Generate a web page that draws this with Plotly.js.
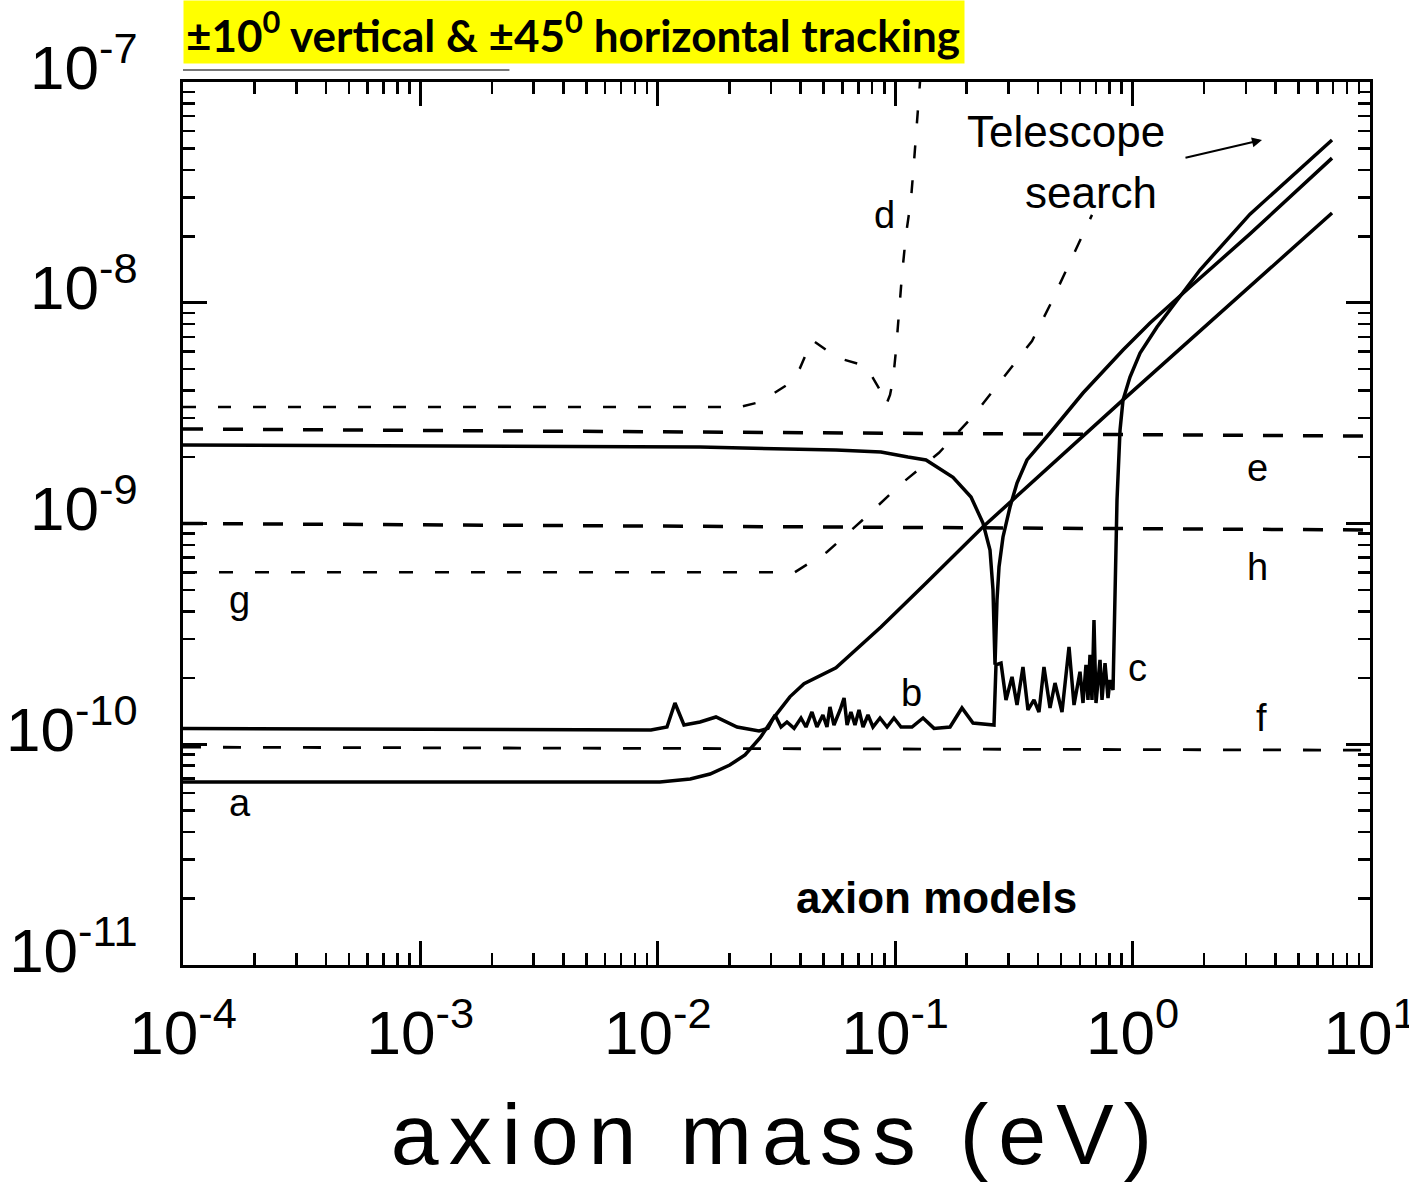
<!DOCTYPE html>
<html>
<head>
<meta charset="utf-8">
<script src="https://cdn.plot.ly/plotly-3.0.1.min.js"></script>
<style>
  html, body { margin: 0; padding: 0; background: #ffffff; }
  #chart { width: 1409px; height: 1182px; }
  .xtitle { letter-spacing: 10px; }
</style>
</head>
<body>
<div id="chart"></div>
<script>
// ---- axis ticks ----
const xTickVals = [1e-4, 1e-3, 1e-2, 1e-1, 1, 10];
const xTickText = ['10<sup>-4</sup>', '10<sup>-3</sup>', '10<sup>-2</sup>', '10<sup>-1</sup>', '10<sup>0</sup>', '10<sup>1</sup>'];
const yTickVals = [1e-11, 1e-10, 1e-9, 1e-8, 1e-7];
const yTickText = ['10<sup>-11</sup>', '10<sup>-10</sup>', '10<sup>-9</sup>', '10<sup>-8</sup>', '10<sup>-7</sup>'];

// ---- curve a (solid) ----
const aMass = [1e-4, 1.02e-2, 1.37e-2, 1.66e-2, 2.01e-2, 2.33e-2, 2.70e-2, 3.03e-2, 3.60e-2, 4.13e-2, 5.63e-2, 8.71e-2, 0.135, 0.234, 0.911, 6.92];
const aG    = [6.75e-11, 6.75e-11, 6.96e-11, 7.33e-11, 8.05e-11, 8.94e-11, 1.07e-10, 1.29e-10, 1.64e-10, 1.88e-10, 2.22e-10, 3.40e-10, 5.38e-10, 9.64e-10, 3.63e-9, 2.55e-8];

// ---- curve b (solid, noisy, rises at ~0.85 eV) ----
const bMass = [1e-4, 9.36e-3, 1.093e-2, 1.181e-2, 1.289e-2, 1.506e-2, 1.758e-2, 2.157e-2, 2.669e-2, 2.912e-2, 3.117e-2, 3.304e-2, 3.50e-2, 3.75e-2, 4.01e-2, 4.21e-2, 4.46e-2, 4.68e-2, 4.96e-2, 5.16e-2, 5.31e-2, 5.52e-2, 5.86e-2, 6.09e-2, 6.27e-2, 6.51e-2, 6.77e-2, 7.04e-2, 7.32e-2, 7.68e-2, 8.06e-2, 8.63e-2, 9.24e-2, 9.88e-2, 0.1058, 0.1177, 0.1310, 0.1457, 0.1702, 0.1911, 0.2127, 0.2532, 0.2607, 0.2658, 0.2791, 0.2929, 0.3105, 0.3259, 0.3453, 0.3625, 0.3843, 0.4033, 0.4233, 0.4489, 0.4711, 0.5042, 0.5397, 0.5665, 0.6004, 0.6181, 0.6363, 0.6487, 0.6615, 0.6745, 0.6876, 0.7011, 0.7290, 0.7433, 0.7653, 0.7879, 0.8030, 0.8270, 0.8432, 0.8597, 0.8852, 0.9112, 0.9750, 1.075, 1.267, 1.538, 1.745, 1.922, 3.123, 6.918];
const bG    = [1.18e-10, 1.16e-10, 1.197e-10, 1.538e-10, 1.222e-10, 1.261e-10, 1.329e-10, 1.197e-10, 1.148e-10, 1.18e-10, 1.357e-10, 1.197e-10, 1.261e-10, 1.18e-10, 1.315e-10, 1.197e-10, 1.40e-10, 1.197e-10, 1.357e-10, 1.197e-10, 1.475e-10, 1.222e-10, 1.43e-10, 1.62e-10, 1.222e-10, 1.40e-10, 1.222e-10, 1.43e-10, 1.197e-10, 1.357e-10, 1.197e-10, 1.315e-10, 1.197e-10, 1.315e-10, 1.197e-10, 1.197e-10, 1.315e-10, 1.18e-10, 1.197e-10, 1.46e-10, 1.248e-10, 1.222e-10, 1.222e-10, 2.29e-10, 2.33e-10, 1.587e-10, 2.02e-10, 1.506e-10, 2.24e-10, 1.43e-10, 1.587e-10, 1.40e-10, 2.24e-10, 1.46e-10, 1.895e-10, 1.40e-10, 2.76e-10, 1.506e-10, 2.13e-10, 1.538e-10, 2.29e-10, 1.587e-10, 2.54e-10, 1.587e-10, 3.65e-10, 1.538e-10, 2.41e-10, 1.587e-10, 2.33e-10, 1.62e-10, 1.955e-10, 1.76e-10, 4.50e-10, 1.278e-9, 2.65e-9, 3.627e-9, 4.61e-9, 5.92e-9, 7.76e-9, 1.029e-8, 1.229e-8, 1.407e-8, 2.52e-8, 5.46e-8];

// ---- curve c (solid, dip near 0.26 eV) ----
const cMass = [1e-4, 1.506e-2, 5.63e-2, 8.71e-2, 0.1132, 0.1348, 0.1752, 0.2086, 0.2343, 0.2508, 0.2582, 0.2633, 0.2684, 0.2737, 0.2845, 0.3045, 0.3259, 0.3590, 0.4489, 0.6181, 0.9112, 1.184, 1.745, 3.123, 6.918];
const cG    = [2.27e-9, 2.22e-9, 2.15e-9, 2.11e-9, 2.00e-9, 1.94e-9, 1.62e-9, 1.318e-9, 1.005e-9, 7.59e-10, 5.00e-10, 2.29e-10, 4.50e-10, 6.35e-10, 8.69e-10, 1.188e-9, 1.526e-9, 1.94e-9, 2.57e-9, 3.90e-9, 6.11e-9, 8.09e-9, 1.178e-8, 2.05e-8, 4.52e-8];

// ---- curve d (dashed) ----
const dMass = [1e-4, 2.22e-2, 2.695e-2, 3.50e-2, 3.972e-2, 4.46e-2, 5.74e-2, 7.53e-2, 8.63e-2, 9.15e-2, 9.51e-2, 9.79e-2, 0.1008, 0.1038, 0.1068, 0.1110, 0.1165, 0.1200, 0.1235, 0.1272];
const dG    = [3.37e-9, 3.37e-9, 3.55e-9, 4.24e-9, 5.06e-9, 6.78e-9, 5.62e-9, 5.17e-9, 4.02e-9, 3.44e-9, 3.82e-9, 4.47e-9, 6.11e-9, 9.08e-9, 1.336e-8, 2.03e-8, 2.92e-8, 4.34e-8, 6.73e-8, 1e-7];

// ---- curve g / telescope search (dashed) ----
const gMass = [1e-4, 3.78e-2, 5.16e-2, 7.53e-2, 0.1058, 0.1529, 0.2148, 0.2873, 0.3770, 0.4489, 0.5345, 0.6302, 0.6745];
const gG    = [6.02e-10, 6.02e-10, 7.43e-10, 1.07e-9, 1.51e-9, 2.09e-9, 3.10e-9, 4.61e-9, 6.71e-9, 9.77e-9, 1.467e-8, 2.14e-8, 2.50e-8];

// ---- flat dashed limits e, h, f ----
const eMass = [1e-4, 1.506e-2, 10];
const eG    = [2.68e-9, 2.60e-9, 2.49e-9];
const hMass = [1e-4, 10];
const hG    = [1.0e-9, 9.35e-10];
const fMass = [1e-4, 10];
const fG    = [9.7e-11, 9.4e-11];

const FONT = 'Liberation Sans, Arial, Helvetica, sans-serif';

function line(x, y, width, dash) {
  return {
    x: x, y: y, type: 'scatter', mode: 'lines', hoverinfo: 'skip',
    line: {color: '#000000', width: width, dash: dash || 'solid'}
  };
}

const traces = [
  line(eMass, eG, 3.5, '20px,20px'),
  line(hMass, hG, 3.5, '20px,20px'),
  line(fMass, fG, 2.8, '18px,22px'),
  line(dMass, dG, 2.5, '13px,22px'),
  line(gMass, gG, 2.5, '14px,22px'),
  line(aMass, aG, 3.5),
  line(cMass, cG, 3.5),
  line(bMass, bG, 3.5)
];

const axisCommon = {
  type: 'log',
  tickmode: 'array',
  ticks: 'inside',
  ticklen: 24,
  tickwidth: 3,
  tickcolor: '#000000',
  showline: true,
  linewidth: 3,
  linecolor: '#000000',
  mirror: 'allticks',
  showgrid: false,
  zeroline: false,
  ticklabeloverflow: 'allow',
  tickfont: {family: FONT, size: 62, color: '#000000'},
  minor: {ticks: 'inside', ticklen: 12, tickwidth: 2.5, tickcolor: '#000000', dtick: 'D1', showgrid: false}
};

function lbl(text, xp, yp, size, weight) {
  return {
    text: text, xref: 'paper', yref: 'paper', x: xp, y: yp,
    xanchor: 'center', yanchor: 'middle', showarrow: false,
    font: {family: FONT, size: size, color: '#000000', weight: weight || 'normal'}
  };
}

const layout = {
  width: 1409,
  height: 1182,
  margin: {l: 183, r: 39, t: 82, b: 217},
  paper_bgcolor: '#ffffff',
  plot_bgcolor: '#ffffff',
  showlegend: false,
  xaxis: Object.assign({}, axisCommon, {
    range: [-4, 1],
    tickvals: xTickVals,
    ticktext: xTickText,
    ticklabelstandoff: 12,
    title: {text: 'axion mass (eV)', font: {family: FONT, size: 86, color: '#000000'}, standoff: 47}
  }),
  yaxis: Object.assign({}, axisCommon, {
    range: [-11, -7],
    tickvals: yTickVals,
    ticktext: yTickText,
    ticklabelstandoff: 30,
    ticklabelshift: -15
  }),
  shapes: [
    {type: 'line', xref: 'paper', yref: 'paper', x0: 0, x1: 0.275, y0: 1.0136, y1: 1.0136,
     line: {color: '#777777', width: 2}}
  ],
  annotations: [
    {
      text: '±10<sup>0</sup> vertical & ±45<sup>0</sup> horizontal tracking',
      xref: 'paper', yref: 'paper', x: 0, y: 965 / 883,
      xanchor: 'left', yanchor: 'top', align: 'left',
      width: 776, height: 58, borderpad: 2, bgcolor: '#ffff00',
      showarrow: false,
      font: {family: 'Lato, Open Sans, sans-serif', size: 44, color: '#000000', weight: 'bold'}
    },
    lbl('a', 0.048, 0.1835, 38),
    lbl('b', 0.614, 0.308, 38),
    lbl('c', 0.8045, 0.3363, 38),
    lbl('d', 0.5906, 0.8494, 38),
    lbl('e', 0.9056, 0.5629, 38),
    lbl('f', 0.909, 0.2797, 38),
    lbl('g', 0.048, 0.4134, 38),
    lbl('h', 0.9056, 0.4507, 38),
    lbl('Telescope', 0.7439, 0.9434, 44),
    lbl('search', 0.765, 0.8743, 44),
    lbl('axion models', 0.6344, 0.077, 44, 'bold'),
    {
      text: '', xref: 'paper', yref: 'paper', x: 0.909, y: 0.9343,
      axref: 'pixel', ayref: 'pixel', ax: -78, ay: 18,
      showarrow: true, arrowhead: 2, arrowsize: 1, arrowwidth: 2, arrowcolor: '#000000'
    }
  ]
};

Plotly.newPlot('chart', traces, layout, {staticPlot: true, displayModeBar: false});
</script>
</body>
</html>
